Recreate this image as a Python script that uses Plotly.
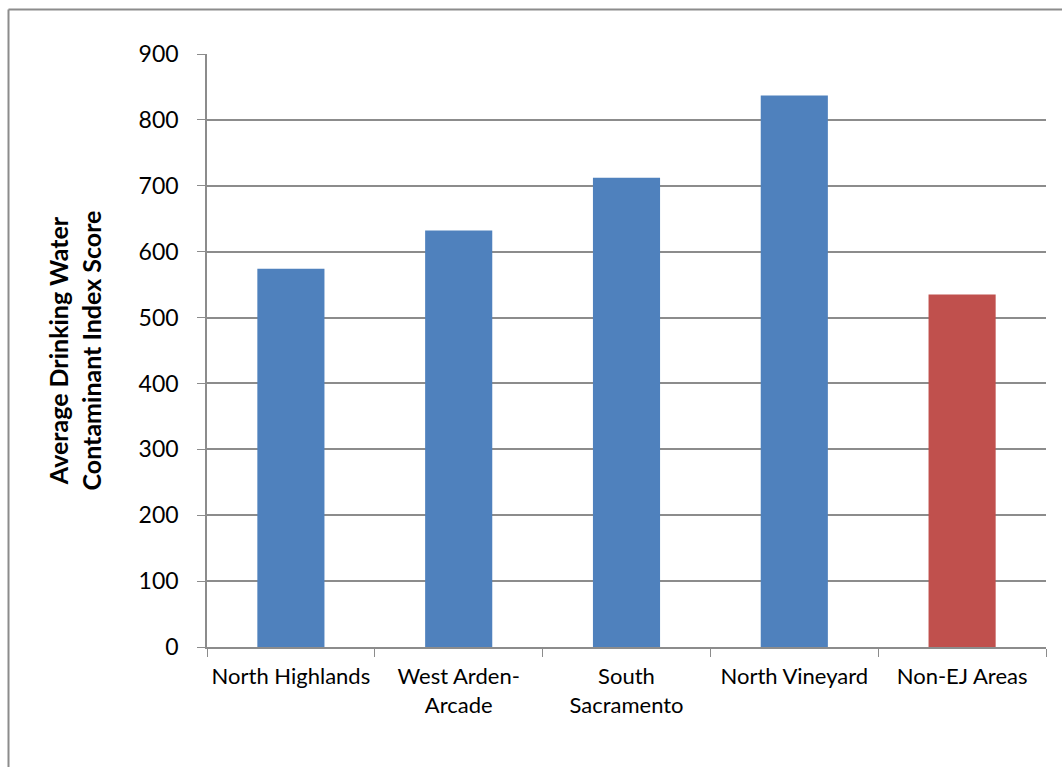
import plotly.graph_objects as go

categories = ["North Highlands", "West Arden-<br>Arcade", "South<br>Sacramento", "North Vineyard", "Non-EJ Areas"]
values = [574, 632, 712, 837, 535]
colors = ["#4F81BD", "#4F81BD", "#4F81BD", "#4F81BD", "#C0504D"]
y_ticks = [0, 100, 200, 300, 400, 500, 600, 700, 800, 900]

W, H = 1062, 767
L, R, T, B = 207, 16, 54, 120
pw, ph = W - L - R, H - T - B

fig = go.Figure(go.Bar(x=categories, y=values, marker=dict(color=colors, line=dict(width=0)), width=0.4))

fig.update_layout(
    width=W, height=H,
    margin=dict(l=L, r=R, t=T, b=B, pad=0),
    paper_bgcolor="white", plot_bgcolor="white",
    font=dict(family="Lato, Calibri, sans-serif", color="#000000"),
    showlegend=False,
    bargap=0.6,
)
fig.update_yaxes(
    range=[0, 900], tickvals=y_ticks, showgrid=True, gridcolor="#8C8C8C", gridwidth=1.5,
    showline=True, linecolor="#8C8C8C", linewidth=1.5, ticks="outside", ticklen=8, tickcolor="#8C8C8C",
    tickfont=dict(size=23), zeroline=False, ticklabelstandoff=14,
    title=dict(text="<b>Average Drinking Water<br>Contaminant Index Score</b>", font=dict(size=25), standoff=30),
)
fig.update_xaxes(
    showline=True, linecolor="#8C8C8C", linewidth=1.5, ticks="outside", ticklen=8, tickcolor="#8C8C8C",
    tickson="boundaries", tickfont=dict(size=22), ticklabelstandoff=9,
)
# outer chart border
fig.add_shape(type="line", xref="paper", yref="paper",
              x0=(8.5 - L) / pw, x1=(8.5 - L) / pw, y0=(H - B - 770) / ph, y1=(H - B - 9.5) / ph,
              line=dict(color="#8C8C8C", width=2))
fig.add_shape(type="line", xref="paper", yref="paper",
              x0=(8.5 - L) / pw, x1=(1070 - L) / pw, y0=(H - B - 9.5) / ph, y1=(H - B - 9.5) / ph,
              line=dict(color="#8C8C8C", width=2))

fig.write_html("out.html", config={"displayModeBar": False},
               post_script="document.body.style.margin='0';document.body.style.overflow='hidden';")
